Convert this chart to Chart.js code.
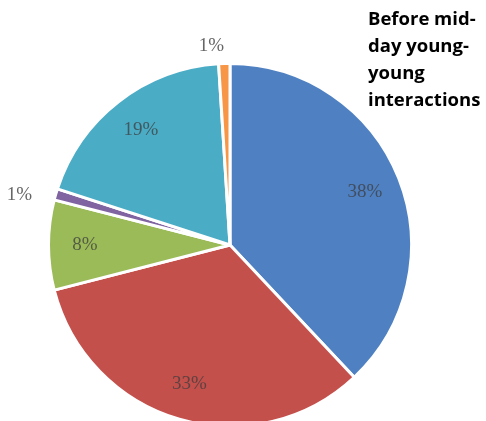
<!DOCTYPE html>
<html>
<head>
<meta charset="utf-8">
<script src="https://cdn.jsdelivr.net/npm/chart.js@4"></script>
<style>
  html, body { margin: 0; padding: 0; background: #fff; overflow: hidden; }
  .wrap { position: relative; width: 486px; height: 490px; }
</style>
</head>
<body>
<div class="wrap"><canvas id="pieChart"></canvas></div>
<script>
// Chart data
const categories = ['A', 'B', 'C', 'D', 'E', 'F'];
const shares = [38, 33, 8, 1, 19, 1];
const sliceColors = ['#4f81c2', '#c4504c', '#9bbb59', '#8064a2', '#4bacc6', '#f79646'];
const titleLines = ['Before mid-', 'day young-', 'young', 'interactions'];

// Draw percentage labels (inside for big slices, outside for tiny ones)
const pctLabels = {
    id: 'pctLabels',
    afterDatasetsDraw(chart) {
        const ctx = chart.ctx;
        const meta = chart.getDatasetMeta(0);
        ctx.save();
        ctx.font = '19px "Liberation Serif", "DejaVu Serif", serif';
        ctx.textAlign = 'center';
        ctx.textBaseline = 'middle';
        meta.data.forEach((arc, i) => {
            const p = arc.getProps(['x', 'y', 'startAngle', 'endAngle', 'outerRadius'], true);
            const mid = (p.startAngle + p.endAngle) / 2;
            const small = shares[i] < 3;
            const r = p.outerRadius * (small ? 1.14 : 0.8);
            const x = p.x + Math.cos(mid) * r - (small ? 12 : 0);
            const y = p.y + Math.sin(mid) * r + (small ? 8 : 0);
            ctx.fillStyle = small ? '#666' : 'rgba(60, 60, 60, 0.75)';
            ctx.fillText(shares[i] + '%', x, y);
        });
        ctx.restore();
    }
};

// Title block in the top right corner
const sideTitle = {
    id: 'sideTitle',
    afterDraw(chart) {
        const ctx = chart.ctx;
        ctx.save();
        ctx.font = 'bold 18.5px "Open Sans", "Noto Sans", sans-serif';
        ctx.fillStyle = '#000';
        ctx.textAlign = 'left';
        ctx.textBaseline = 'middle';
        titleLines.forEach((line, i) => {
            ctx.fillText(line, 368, 20 + i * 27);
        });
        ctx.restore();
    }
};

const pieCtx = document.getElementById('pieChart').getContext('2d');
const pieChart = new Chart(pieCtx, {
    type: 'pie',
    data: {
        labels: categories,
        datasets: [{
            data: shares,
            backgroundColor: sliceColors,
            borderColor: '#ffffff',
            borderWidth: 3
        }]
    },
    options: {
        responsive: true,
        maintainAspectRatio: false,
        animation: false,
        layout: {
            padding: { left: 47, right: 73, top: 62, bottom: 62 }
        },
        plugins: {
            legend: { display: false },
            tooltip: { enabled: false }
        }
    },
    plugins: [pctLabels, sideTitle]
});
</script>
</body>
</html>
